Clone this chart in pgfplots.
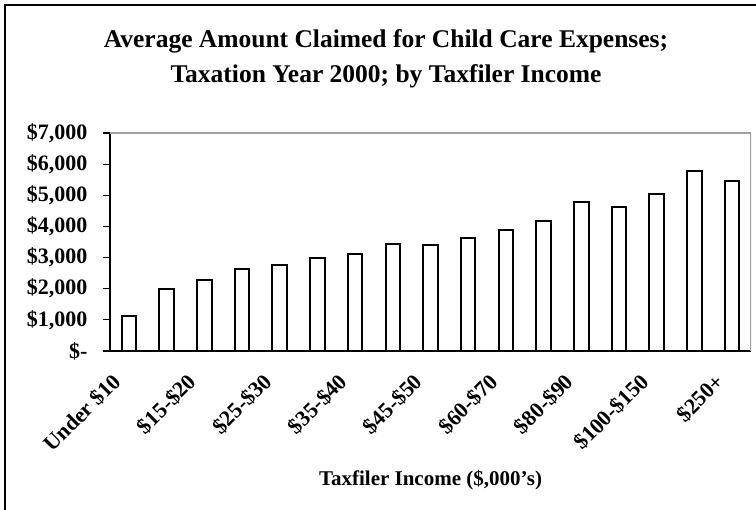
\documentclass[border=0pt]{standalone}
\usepackage{fontspec}
\setmainfont{Liberation Serif}
\usepackage{pgfplots}
\pgfplotsset{compat=1.18}
\definecolor{framegray}{RGB}{160,160,160}
\begin{document}
\begin{tikzpicture}[x=1pt,y=1pt]
\useasboundingbox (0,0) rectangle (756,510);
\draw[line width=1.5pt] (5,-20) -- (5,505) -- (790,505);
\node[font=\fontsize{25.5}{30}\selectfont\bfseries, anchor=base] at (386,462) {Average Amount Claimed for Child Care Expenses;};
\node[font=\fontsize{25.5}{30}\selectfont\bfseries, anchor=base] at (386,427) {Taxation Year 2000; by Taxfiler Income};
\begin{axis}[
    at={(110pt,159pt)}, anchor=south west,
    scale only axis, width=641pt, height=218pt,
    xmin=-0.5, xmax=16.5, ymin=0, ymax=7000,
    axis x line*=bottom, axis y line*=left,
    axis line style={line width=1.2pt, -},
    tick align=outside,
    major tick length=7pt, minor tick length=7pt,
    every tick/.style={black, line width=1.1pt},
    xtick={0,2,...,16},
    xticklabels={Under \$10, \$15-\$20, \$25-\$30, \$35-\$40, \$45-\$50, \$60-\$70, \$80-\$90, \$100-\$150, \$250+},
    xtick style={draw=none},
    minor xtick={-0.5,0.5,...,16.5},
    ytick={0,1000,...,7000},
    yticklabels={\$-, \$1{,}000, \$2{,}000, \$3{,}000, \$4{,}000, \$5{,}000, \$6{,}000, \$7{,}000},
    ticklabel style={font=\fontsize{22}{26}\selectfont\bfseries},
    yticklabel style={xshift=-12pt},
    xticklabel style={xshift=-18pt, yshift=-9pt, rotate=45, anchor=north east},
    xlabel={Taxfiler Income (\$,000’s)},
    xlabel style={font=\fontsize{21}{25}\selectfont\bfseries, at={(axis description cs:0.5,-0.615)}, anchor=base},
    ybar, bar width=14.5pt,
]
\addplot[draw=black, fill=white, line width=2pt] coordinates {
    (0,1120) (1,2000) (2,2280) (3,2630) (4,2760) (5,2980) (6,3130) (7,3430) (8,3410)
    (9,3630) (10,3870) (11,4180) (12,4800) (13,4610) (14,5050) (15,5780) (16,5460)
};
\draw[framegray, line width=1.5pt] (rel axis cs:0,1) -- (rel axis cs:1,1) -- (rel axis cs:1,0);
\end{axis}
\end{tikzpicture}
\end{document}
